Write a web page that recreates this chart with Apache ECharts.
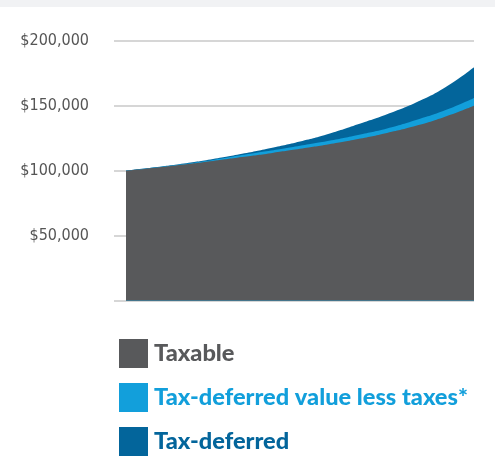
<!DOCTYPE html>
<html><head><meta charset="utf-8">
<script src="https://cdn.jsdelivr.net/npm/echarts@6/dist/echarts.min.js"></script>
<style>html,body{margin:0;padding:0;background:#fff}#c{width:495px;height:469px}</style>
</head><body><div id="c"></div>
<script>
const steps = [0,1,2,3,4,5,6,7,8,9,10,11,12];
const taxable = [100000,102300,104800,107500,110500,113500,116800,120300,124300,129000,134500,141500,150000];
const lessTaxes = [100000,102500,105200,108300,112000,115500,119200,123000,127500,132500,139000,146500,156000];
const taxDeferred = [100000,102600,105500,109000,113000,117500,122500,128500,135800,143500,152500,164000,179500];
const yTicks = [0,50000,100000,150000,200000];
const names = ['Taxable','Tax-deferred value less taxes*','Tax-deferred'];
const colors = ['#58595b','#129fdb','#03659b'];

const pairs = arr => steps.map((s,i)=>[s,arr[i]]);
const chart = echarts.init(document.getElementById('c'));
function mk(name, data, color, z){
  return {name, type:'line', data:pairs(data), smooth:true, symbol:'none', z,
    lineStyle:{width:0,color}, itemStyle:{color}, areaStyle:{color, opacity:1}};
}
chart.setOption({
  animation:false,
  graphic:[{type:'rect', left:0, top:0, shape:{width:495,height:7}, style:{fill:'#f1f2f4'}}],
  grid:{left:114, right:21, top:40.7, height:260},
  xAxis:{type:'value', min:-0.414, max:12, show:false, splitLine:{show:false}},
  yAxis:{type:'value', min:0, max:200000, interval:50000,
    axisLine:{show:false}, axisTick:{show:false},
    splitLine:{lineStyle:{color:'#c8c8c8', width:1.5}},
    axisLabel:{margin:25, color:'#555', fontSize:16, fontFamily:'DejaVu Sans Condensed',
      formatter:v=> v===0 ? '' : '$'+v.toLocaleString('en-US')}},
  legend:{orient:'vertical', left:114, top:334, itemWidth:29, itemHeight:29, itemGap:15,
    icon:'rect',
    data:names.map((n,i)=>({name:n, textStyle:{color:colors[i]}})),
    textStyle:{fontFamily:'Lato', fontWeight:900, fontSize:23.6, padding:[0,0,0,1]}},
  series:[
    mk(names[2], taxDeferred, colors[2], 1),
    mk(names[1], lessTaxes, colors[1], 2),
    mk(names[0], taxable, colors[0], 3)
  ]
});
</script></body></html>
